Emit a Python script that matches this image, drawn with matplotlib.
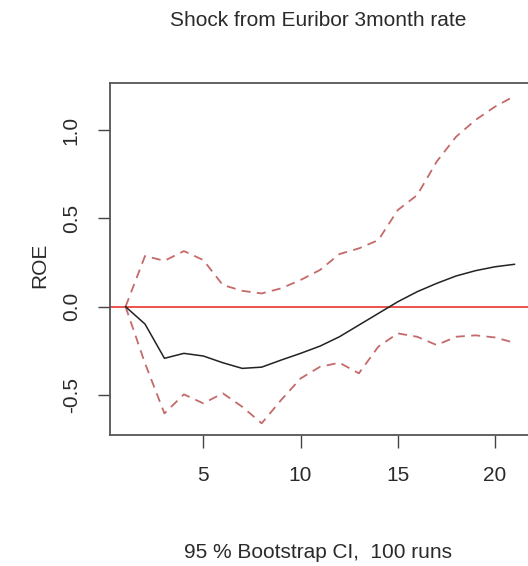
import matplotlib.pyplot as plt

plt.rcParams['font.family'] = ['Liberation Sans', 'DejaVu Sans']

# impulse response of ROE to a Euribor shock, with bootstrap bands
horizon = list(range(1, 22))
irf = [0.0, -0.098, -0.292, -0.264, -0.279, -0.317, -0.349, -0.342, -0.302, -0.264,
       -0.223, -0.170, -0.104, -0.038, 0.028, 0.085, 0.132, 0.174, 0.204, 0.226, 0.240]
upper = [0.0, 0.287, 0.260, 0.315, 0.264, 0.123, 0.090, 0.075, 0.104, 0.151,
         0.208, 0.298, 0.330, 0.377, 0.547, 0.632, 0.821, 0.962, 1.057, 1.132, 1.192]
lower = [0.0, -0.320, -0.604, -0.496, -0.547, -0.490, -0.566, -0.660, -0.528, -0.406,
         -0.340, -0.317, -0.377, -0.226, -0.151, -0.170, -0.217, -0.170, -0.162, -0.174, -0.204]
xticks = [5, 10, 15, 20]
yticks = [-0.5, 0.0, 0.5, 1.0]

fig = plt.figure(figsize=(5.28, 5.66), dpi=100)
ax = fig.add_axes([110 / 528, 1 - 435 / 566, 420 / 528, 352 / 566])

ax.axhline(0, color='#e8221c', lw=1.1, zorder=1)
ax.plot(horizon, upper, color='#c46a6a', lw=1.3, ls=(0, (5, 3.5)))
ax.plot(horizon, lower, color='#c46a6a', lw=1.3, ls=(0, (5, 3.5)))
ax.plot(horizon, irf, color='#222222', lw=1.1)

ax.set_xlim(0.2, 21.8)
ax.set_ylim(-0.726, 1.266)
ax.set_xticks(xticks)
ax.set_yticks(yticks)
ax.set_yticklabels([f'{v:.1f}' for v in yticks], rotation=90, va='center')
ax.tick_params(direction='out', length=9, width=1, color='#444444',
               labelsize=15, labelcolor='#2a2a2a')
ax.tick_params(axis='x', pad=13)
ax.tick_params(axis='y', pad=12)

for s in ax.spines.values():
    s.set_color('#555555')
    s.set_linewidth(1.3)

fig.text(40 / 528, 1 - 265 / 566, 'ROE', rotation=90, ha='center', va='center',
         fontsize=15, color='#2a2a2a')
fig.text(318 / 528, 1 - 20 / 566, 'Shock from Euribor 3month rate', ha='center',
         va='center', fontsize=15, color='#2a2a2a')
fig.text(318 / 528, 1 - 553 / 566, '95 % Bootstrap CI,  100 runs', ha='center',
         va='center', fontsize=15, color='#2a2a2a')

fig.savefig('out.png', dpi=100)
